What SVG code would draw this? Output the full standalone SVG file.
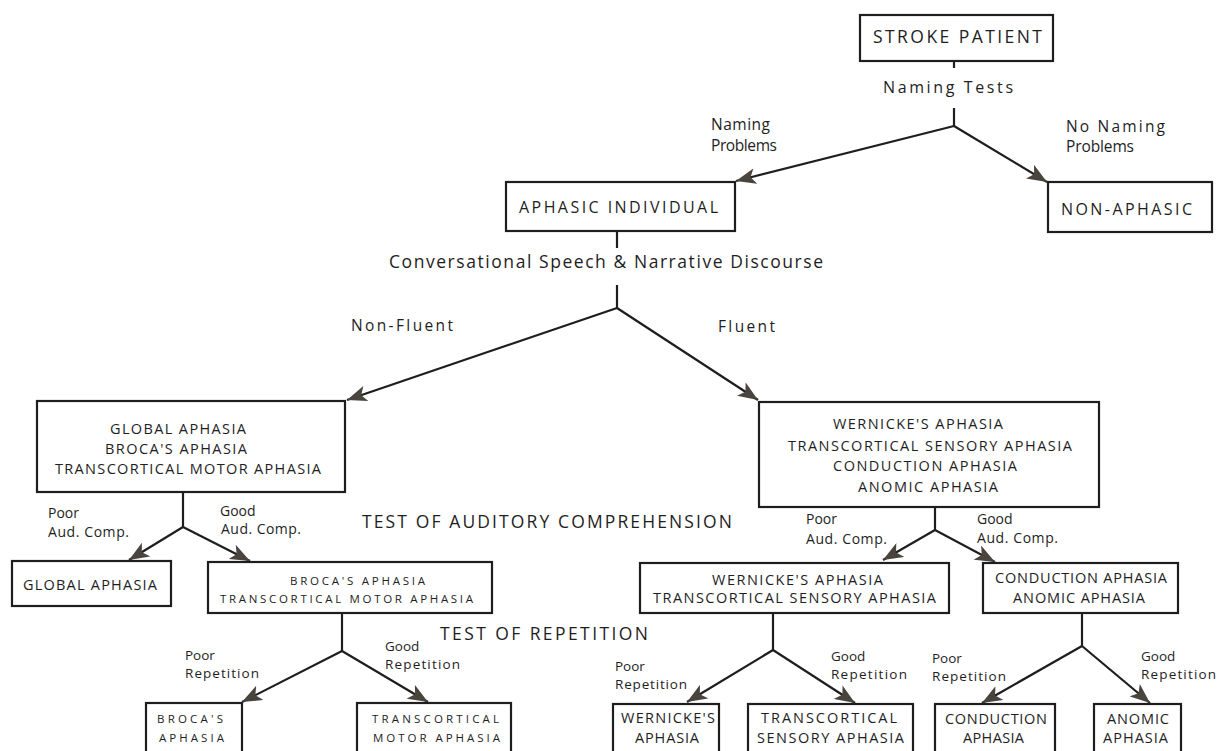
<svg xmlns="http://www.w3.org/2000/svg" width="1220" height="751" viewBox="0 0 1220 751">
<defs>
<marker id="ah" markerUnits="userSpaceOnUse" markerWidth="22" markerHeight="16" refX="20" refY="8" orient="auto">
<path d="M0,0 L20,8 L0,16 L5,8 z" fill="#4a443e"/>
</marker>
<style>
.box{fill:#fff;stroke:#1e1e1e;stroke-width:2.2}
.ln{fill:none;stroke:#1e1e1e;stroke-width:2.2}
.ar{fill:none;stroke:#1e1e1e;stroke-width:2.2;marker-end:url(#ah)}
text{font-family:"Open Sans","Liberation Sans",sans-serif;fill:#1e1e1e}
.t17{font-size:17.5px}
.t16{font-size:16px}
.t15{font-size:15.5px}
.t14{font-size:14.5px}
.t12{font-size:14px}
.t13{font-size:13.5px}
.t10{font-size:11.5px}
</style>
</defs>
<rect width="1220" height="751" fill="#fff"/>

<g id="connectors">
<path class="ln" d="M954,61 V68"/>
<path class="ln" d="M954,108 V126"/>
<path class="ar" d="M954,126 L736,181"/>
<path class="ar" d="M954,126 L1047,182"/>
<path class="ln" d="M617,231 V248"/>
<path class="ln" d="M617,285 V308"/>
<path class="ar" d="M617,308 L347,400"/>
<path class="ar" d="M617,308 L758,400"/>
<path class="ln" d="M183,492 V527"/>
<path class="ar" d="M183,527 L129,560"/>
<path class="ar" d="M183,527 L250,561"/>
<path class="ln" d="M935,507 V530"/>
<path class="ar" d="M935,530 L883,560"/>
<path class="ar" d="M935,530 L995,562"/>
<path class="ln" d="M342,613 V651"/>
<path class="ar" d="M342,651 L242,702"/>
<path class="ar" d="M342,651 L428,702"/>
<path class="ln" d="M773,613 V650"/>
<path class="ar" d="M773,650 L687,702"/>
<path class="ar" d="M773,650 L855,703"/>
<path class="ln" d="M1082,613 V646"/>
<path class="ar" d="M1082,646 L982,703"/>
<path class="ar" d="M1082,646 L1150,703"/>
</g>

<g id="labels">
<text class="t16" x="883" y="93" textLength="130" lengthAdjust="spacing">Naming Tests</text>
<text class="t15" x="711" y="130" textLength="59" lengthAdjust="spacing">Naming</text>
<text class="t15" x="711" y="151" textLength="66" lengthAdjust="spacing">Problems</text>
<text class="t15" x="1066" y="132" textLength="99" lengthAdjust="spacing">No Naming</text>
<text class="t15" x="1066" y="152" textLength="68" lengthAdjust="spacing">Problems</text>
<text class="t17" x="389" y="268" textLength="434" lengthAdjust="spacing">Conversational Speech &amp; Narrative Discourse</text>
<text class="t15" x="351" y="331" textLength="102" lengthAdjust="spacing">Non-Fluent</text>
<text class="t15" x="718" y="332" textLength="57" lengthAdjust="spacing">Fluent</text>
<text class="t12" x="48" y="518">Poor</text>
<text class="t12" x="48" y="537" textLength="81" lengthAdjust="spacing">Aud. Comp.</text>
<text class="t12" x="220" y="516">Good</text>
<text class="t12" x="221" y="534" textLength="80" lengthAdjust="spacing">Aud. Comp.</text>
<text class="t17" x="362" y="528" textLength="370" lengthAdjust="spacing">TEST OF AUDITORY COMPREHENSION</text>
<text class="t12" x="806" y="524">Poor</text>
<text class="t12" x="806" y="544" textLength="81" lengthAdjust="spacing">Aud. Comp.</text>
<text class="t12" x="977" y="524">Good</text>
<text class="t12" x="977" y="543" textLength="81" lengthAdjust="spacing">Aud. Comp.</text>
<text class="t17" x="440" y="640" textLength="208" lengthAdjust="spacing">TEST OF REPETITION</text>
<text class="t13" x="185" y="660">Poor</text>
<text class="t13" x="185" y="678" textLength="74" lengthAdjust="spacing">Repetition</text>
<text class="t13" x="385" y="651">Good</text>
<text class="t13" x="385" y="669" textLength="75" lengthAdjust="spacing">Repetition</text>
<text class="t13" x="615" y="671">Poor</text>
<text class="t13" x="615" y="689" textLength="72" lengthAdjust="spacing">Repetition</text>
<text class="t13" x="831" y="661">Good</text>
<text class="t13" x="831" y="679" textLength="76" lengthAdjust="spacing">Repetition</text>
<text class="t13" x="932" y="663">Poor</text>
<text class="t13" x="932" y="681" textLength="74" lengthAdjust="spacing">Repetition</text>
<text class="t13" x="1141" y="661">Good</text>
<text class="t13" x="1141" y="679" textLength="75" lengthAdjust="spacing">Repetition</text>
</g>

<g id="stroke-patient">
<rect class="box" x="860" y="15" width="193" height="46"/>
<text class="t17" x="873" y="43" textLength="169" lengthAdjust="spacing">STROKE PATIENT</text>
</g>
<g id="aphasic-individual">
<rect class="box" x="506" y="182" width="229" height="49"/>
<text class="t16" x="519" y="213" textLength="199" lengthAdjust="spacing">APHASIC INDIVIDUAL</text>
</g>
<g id="non-aphasic">
<rect class="box" x="1048" y="182" width="164" height="50"/>
<text class="t16" x="1061" y="215" textLength="131" lengthAdjust="spacing">NON-APHASIC</text>
</g>
<g id="nonfluent-group">
<rect class="box" x="37" y="401" width="308" height="91"/>
<text class="t14" x="110" y="434" textLength="136" lengthAdjust="spacing">GLOBAL APHASIA</text>
<text class="t14" x="105" y="454" textLength="142" lengthAdjust="spacing">BROCA'S APHASIA</text>
<text class="t14" x="55" y="474" textLength="266" lengthAdjust="spacing">TRANSCORTICAL MOTOR APHASIA</text>
</g>
<g id="fluent-group">
<rect class="box" x="759" y="402" width="340" height="105"/>
<text class="t14" x="833" y="429" textLength="170" lengthAdjust="spacing">WERNICKE'S APHASIA</text>
<text class="t14" x="788" y="451" textLength="284" lengthAdjust="spacing">TRANSCORTICAL SENSORY APHASIA</text>
<text class="t14" x="833" y="471" textLength="184" lengthAdjust="spacing">CONDUCTION APHASIA</text>
<text class="t14" x="858" y="492" textLength="140" lengthAdjust="spacing">ANOMIC APHASIA</text>
</g>
<g id="global-aphasia">
<rect class="box" x="12" y="561" width="159" height="45"/>
<text class="t14" x="23" y="590" textLength="134" lengthAdjust="spacing">GLOBAL APHASIA</text>
</g>
<g id="broca-tma">
<rect class="box" x="208" y="562" width="284" height="51"/>
<text class="t10" x="290" y="585" textLength="135" lengthAdjust="spacing">BROCA'S APHASIA</text>
<text class="t10" x="220" y="603" textLength="253" lengthAdjust="spacing">TRANSCORTICAL MOTOR APHASIA</text>
</g>
<g id="wernicke-tsa">
<rect class="box" x="640" y="563" width="309" height="50"/>
<text class="t14" x="712" y="585" textLength="171" lengthAdjust="spacing">WERNICKE'S APHASIA</text>
<text class="t14" x="653" y="603" textLength="283" lengthAdjust="spacing">TRANSCORTICAL SENSORY APHASIA</text>
</g>
<g id="conduction-anomic">
<rect class="box" x="983" y="563" width="195" height="50"/>
<text class="t14" x="995" y="583" textLength="172" lengthAdjust="spacing">CONDUCTION APHASIA</text>
<text class="t14" x="1013" y="603" textLength="132" lengthAdjust="spacing">ANOMIC APHASIA</text>
</g>
<g id="broca-aphasia">
<rect class="box" x="146" y="703" width="96" height="60"/>
<text class="t10" x="157" y="723" textLength="66" lengthAdjust="spacing">BROCA'S</text>
<text class="t10" x="159" y="742" textLength="65" lengthAdjust="spacing">APHASIA</text>
</g>
<g id="tma">
<rect class="box" x="357" y="703" width="154" height="60"/>
<text class="t10" x="372" y="723" textLength="127" lengthAdjust="spacing">TRANSCORTICAL</text>
<text class="t10" x="373" y="742" textLength="127" lengthAdjust="spacing">MOTOR APHASIA</text>
</g>
<g id="wernicke-aphasia">
<rect class="box" x="613" y="704" width="106" height="60"/>
<text class="t14" x="621" y="723" textLength="94" lengthAdjust="spacing">WERNICKE'S</text>
<text class="t14" x="635" y="743" textLength="64" lengthAdjust="spacing">APHASIA</text>
</g>
<g id="tsa">
<rect class="box" x="748" y="704" width="165" height="60"/>
<text class="t14" x="761" y="723" textLength="136" lengthAdjust="spacing">TRANSCORTICAL</text>
<text class="t14" x="757" y="743" textLength="147" lengthAdjust="spacing">SENSORY APHASIA</text>
</g>
<g id="conduction-aphasia">
<rect class="box" x="935" y="704" width="120" height="60"/>
<text class="t14" x="945" y="724" textLength="102" lengthAdjust="spacing">CONDUCTION</text>
<text class="t14" x="963" y="743" textLength="61" lengthAdjust="spacing">APHASIA</text>
</g>
<g id="anomic-aphasia">
<rect class="box" x="1094" y="704" width="87" height="60"/>
<text class="t14" x="1107" y="724" textLength="62" lengthAdjust="spacing">ANOMIC</text>
<text class="t14" x="1103" y="743" textLength="65" lengthAdjust="spacing">APHASIA</text>
</g>
</svg>
